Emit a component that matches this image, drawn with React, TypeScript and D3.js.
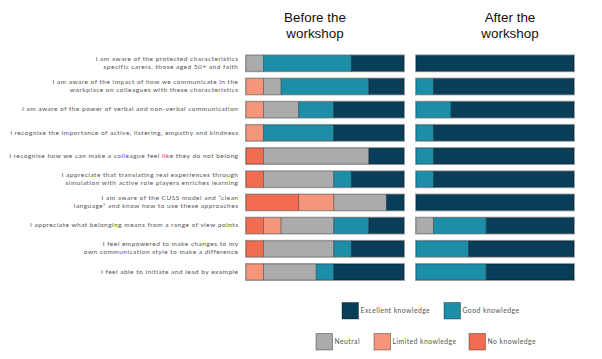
import React from "react";
import * as d3 from "d3";

const statements: string[][] = [
  ["I am aware of the protected characteristics", "specific carers, those aged 50+ and faith"],
  ["I am aware of the impact of how we communicate in the", "workplace on colleagues with these characteristics"],
  ["I am aware of the power of verbal and non-verbal communication"],
  ["I recognise the importance of active, listering, empathy and kindness"],
  ["I recognise how we can make a colleague feel like they do not belong"],
  ["I appreciate that translating real experiences through", "simulation with active role players enriches learning"],
  ["I am aware of the CUSS model and \u201cclean", "language\u201d and know how to use these approaches"],
  ["I appreciate what belonging means from a range of view points"],
  ["I feel empowered to make changes to my", "own communication style to make a difference"],
  ["I feel able to initiate and lead by example"],
];

const levels = ["No knowledge", "Limited knowledge", "Neutral", "Good knowledge", "Excellent knowledge"];
const colors = ["#f26d50", "#f5957a", "#a9abac", "#1c8ea8", "#083e58"];

// counts per level: [none, limited, neutral, good, excellent]
const before: number[][] = [
  [0, 0, 1, 5, 3],
  [0, 1, 1, 5, 2],
  [0, 1, 2, 2, 4],
  [0, 1, 0, 4, 4],
  [1, 0, 6, 0, 2],
  [1, 0, 4, 1, 3],
  [3, 2, 3, 0, 1],
  [1, 1, 3, 2, 2],
  [1, 0, 4, 1, 3],
  [0, 1, 3, 1, 4],
];
const after: number[][] = [
  [0, 0, 0, 0, 9],
  [0, 0, 0, 1, 8],
  [0, 0, 0, 2, 7],
  [0, 0, 0, 1, 8],
  [0, 0, 0, 1, 8],
  [0, 0, 0, 1, 8],
  [0, 0, 0, 0, 9],
  [0, 0, 1, 3, 5],
  [0, 0, 0, 3, 6],
  [0, 0, 0, 4, 5],
];

const W = 602, H = 359;
const labelFont = "Lato, 'Open Sans', sans-serif";
const titleFont = "'Liberation Sans', Arial, sans-serif";

function Stack({ data, x, y, bh }: { data: number[][]; x: d3.ScaleLinear<number, number>; y: d3.ScalePoint<number>; bh: number }) {
  const stacked = d3.stack<number[], number>().keys(d3.range(5)).value((d, k) => d[k])(data);
  return (
    <g>
      {data.map((_, i) => (
        <rect key={"o" + i} x={x(0) - 0.5} y={(y(i) as number) - bh / 2 - 0.5} width={x(9) - x(0) + 1} height={bh + 1} fill="none" stroke="#b5b5b5" strokeWidth={1} />
      ))}
      {stacked.map((s, k) =>
        s.map((d, i) =>
          d[1] - d[0] > 0 ? (
            <rect key={k + "-" + i} x={x(d[0])} y={(y(i) as number) - bh / 2} width={x(d[1]) - x(d[0])} height={bh} fill={colors[k]} stroke="rgba(0,0,0,0.35)" strokeWidth={0.8} />
          ) : null
        )
      )}
    </g>
  );
}

export default function App() {
  const y = d3.scalePoint<number>().domain(d3.range(10)).range([63.3, 272]);
  const xb = d3.scaleLinear().domain([0, 9]).range([246, 404]);
  const xa = d3.scaleLinear().domain([0, 9]).range([416, 574]);
  const bh = 16;
  const legendRow1 = [
    { k: 4, x: 342, y: 302.5 },
    { k: 3, x: 444, y: 302.5 },
  ];
  const legendRow2 = [
    { k: 2, x: 316, y: 333.5 },
    { k: 1, x: 374, y: 333.5 },
    { k: 0, x: 469, y: 333.5 },
  ];
  return (
    <svg width={W} height={H} style={{ position: "absolute", left: 0, top: 0, background: "#fff" }}>
      <g fontFamily={titleFont} fontSize={13.4} fill="#111" textAnchor="middle">
        <text x={315} y={21.7}>Before the</text>
        <text x={315} y={37.7}>workshop</text>
        <text x={510} y={21.7}>After the</text>
        <text x={510} y={37.7}>workshop</text>
      </g>
      <g fontFamily={labelFont} fontSize={6.5} letterSpacing={0.5} fill="#555" textAnchor="end">
        {statements.map((lines, i) =>
          lines.map((ln, j) => (
            <text key={i + "-" + j} x={238.5} y={(y(i) as number) + (j - (lines.length - 1) / 2) * 8} dominantBaseline="middle">
              {ln}
            </text>
          ))
        )}
      </g>
      <Stack data={before} x={xb} y={y} bh={bh} />
      <Stack data={after} x={xa} y={y} bh={bh} />
      <g fontFamily={labelFont} fontSize={6.8} letterSpacing={0.45} fill="#555">
        {[...legendRow1, ...legendRow2].map((l) => (
          <g key={l.k}>
            <rect x={l.x} y={l.y} width={16.5} height={16.5} fill={colors[l.k]} stroke="rgba(0,0,0,0.35)" strokeWidth={1} />
            <text x={l.x + 18.5} y={l.y + 8.5} dominantBaseline="middle">{levels[l.k]}</text>
          </g>
        ))}
      </g>
    </svg>
  );
}
